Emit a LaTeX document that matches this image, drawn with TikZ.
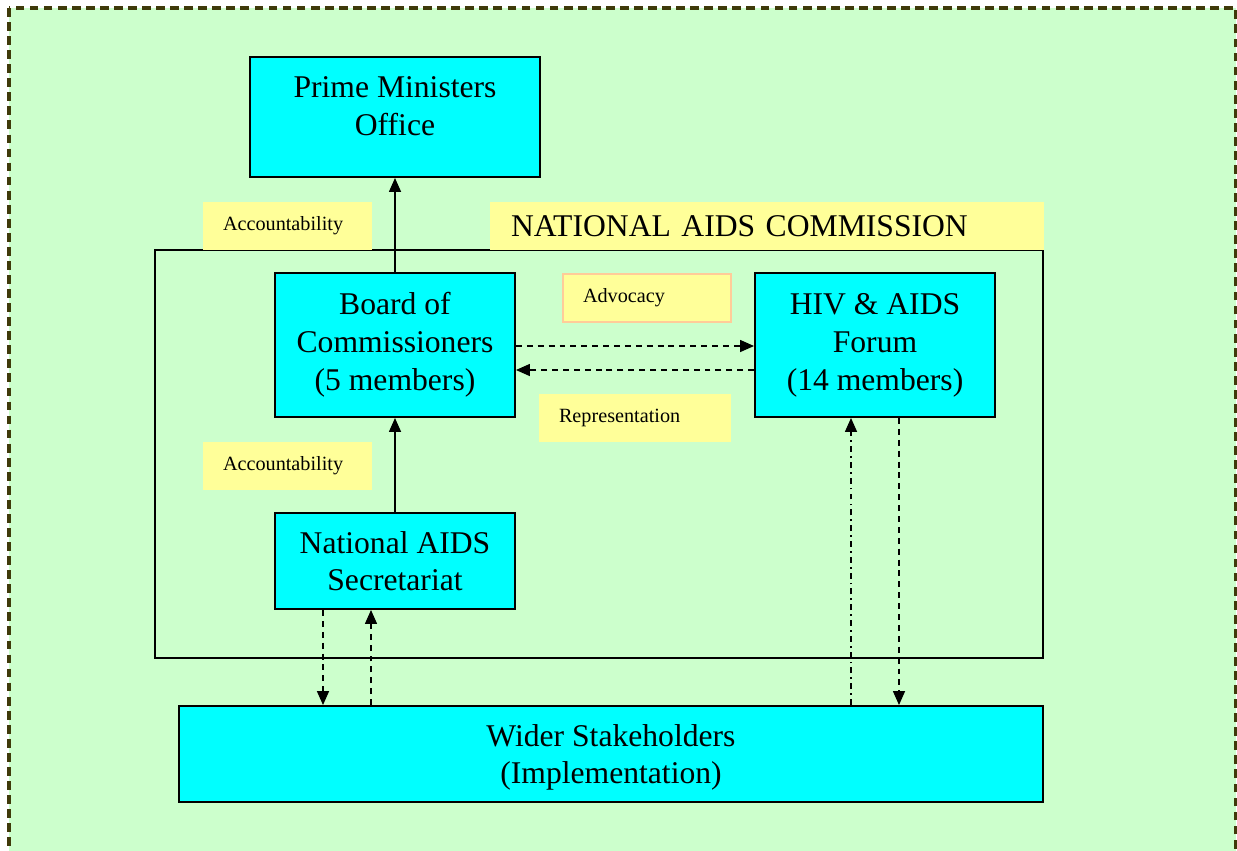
\documentclass[tikz,border=0pt]{standalone}
\usepackage{fontspec}
\setmainfont{Liberation Serif}
\usetikzlibrary{arrows.meta}

\definecolor{pagegreen}{HTML}{CCFFCC}
\definecolor{boxcyan}{HTML}{00FFFF}
\definecolor{tagyellow}{HTML}{FFFF99}
\definecolor{tagpeach}{HTML}{FFCC99}
\definecolor{frameolive}{HTML}{3F3A0A}

\tikzset{
  orgbox/.style={draw, fill=boxcyan, line width=1.1pt, align=center, inner sep=0pt,
    font=\fontsize{18}{21.6}\selectfont},
  tagbox/.style={fill=tagyellow, inner xsep=0.4cm, inner ysep=0pt, align=left,
    minimum height=0.96cm, font=\fontsize{11.5}{13}\selectfont},
  link/.style={line width=0.85pt, -{Triangle[length=0.28cm,width=0.24cm]}},
  dashlink/.style={link, dash pattern=on 3.4pt off 2.8pt},
  dotlink/.style={link, dash pattern=on 3.4pt off 2.3pt on 1pt off 2.3pt},
}

\begin{document}
\begin{tikzpicture}[x=0.02cm, y=-0.02cm]
    \useasboundingbox (0,0) rectangle (1237,850);
    \clip (0,0) rectangle (1237,850);

    % page frame
    \draw[frameolive, fill=pagegreen, line width=2pt, dash pattern=on 5pt off 3pt] (9,8) rectangle (1236,890);

    % commission outline
    \draw[line width=0.85pt] (155,250) rectangle (1043,658);

    % labels
    \node[tagbox, text width=2.58cm] (acc1) at (287.5,226) {Accountability};
    \node[tagbox, text width=2.58cm] (acc2) at (287.5,466) {Accountability};
    \node[tagbox, text width=10.24cm, inner xsep=0.42cm, font=\fontsize{18}{21.6}\selectfont] (nac) at (767,226) {NATIONAL AIDS COMMISSION};
    \node[tagbox, text width=2.56cm, draw=tagpeach, line width=1pt] (adv) at (647,298) {Advocacy};
    \node[tagbox, text width=3.04cm] (rep) at (635,418) {Representation};

    % boxes
    \node[orgbox, minimum width=5.8cm, minimum height=2.4cm, text depth=0.45cm] (pmo) at (395,117) {Prime Ministers\\Office};
    \node[orgbox, minimum width=4.8cm, minimum height=2.88cm] (board) at (395,345) {Board of\\Commissioners\\(5 members)};
    \node[orgbox, minimum width=4.8cm, minimum height=2.88cm] (forum) at (875,345) {HIV \& AIDS\\Forum\\(14 members)};
    \node[orgbox, minimum width=4.8cm, minimum height=1.92cm, text depth=-0.12cm] (nas) at (395,561) {National AIDS\\Secretariat};
    \node[orgbox, minimum width=17.28cm, minimum height=1.92cm, text depth=-0.12cm] (wider) at (611,754) {Wider Stakeholders\\(Implementation)};

    \coordinate (advrow) at (0,346); \coordinate (reprow) at (0,370);
    \coordinate (downcol) at (323,0); \coordinate (upcol) at (371,0);
    \coordinate (backcol) at (851,0); \coordinate (outcol) at (899,0);

    % links
    \draw[link] (board.north) -- (pmo.south);
    \draw[link] (nas.north) -- (board.south);
    \draw[dashlink] (board.east |- advrow) -- (forum.west |- advrow);
    \draw[dashlink] (forum.west |- reprow) -- (board.east |- reprow);
    \draw[dashlink] (nas.south -| downcol) -- (wider.north -| downcol);
    \draw[dashlink] (wider.north -| upcol) -- (nas.south -| upcol);
    \draw[dotlink] (wider.north -| backcol) -- (forum.south -| backcol);
    \draw[dashlink] (forum.south -| outcol) -- (wider.north -| outcol);
\end{tikzpicture}
\end{document}
